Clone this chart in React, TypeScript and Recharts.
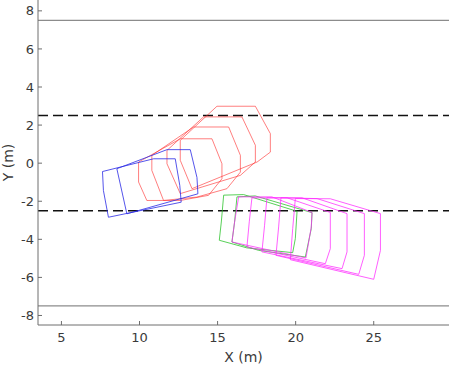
import React from 'react'
import { ComposedChart, Line, XAxis, YAxis, ReferenceLine } from 'recharts'

type Pt = [number, number]

// axis ticks
const xTicks = [5, 10, 15, 20, 25]
const yTicks = [-8, -6, -4, -2, 0, 2, 4, 6, 8]

// lane markings
const laneEdges = [7.5, -7.5]
const laneDividers = [2.5, -2.5]

// footprints (x, y in metres)
const redShapes: Pt[][] = [
  [[9.94, 0.06], [12.61, 1.28], [14.64, 1.28], [15.28, -0.03], [15.28, -0.82], [14.42, -1.69], [12.61, -1.96], [10.47, -1.96], [9.94, -0.99]],
  [[10.79, 0.41], [13.46, 1.9], [15.71, 1.9], [16.46, 0.41], [16.46, -0.47], [15.6, -1.34], [13.68, -1.78], [11.54, -1.96], [10.79, -0.38]],
  [[11.76, 0.67], [14.1, 2.43], [16.56, 2.43], [17.42, 0.94], [17.42, 0.06], [16.46, -0.64], [12.61, -1.6], [11.76, -0.03]],
  [[12.61, 1.2], [14.96, 2.99], [17.42, 2.99], [18.38, 1.55], [18.38, 0.58], [17.53, 0.06], [13.36, -1.34], [12.61, 0.15]],
]

const blueShapes: Pt[][] = [
  [[7.63, -0.44], [10.9, 0.23], [12.29, 0.23], [12.58, -1.17], [12.67, -2.05], [8.01, -2.84], [7.69, -1.44]],
  [[8.55, -0.29], [11.76, 0.71], [13.25, 0.71], [13.68, -0.75], [13.74, -1.61], [9.19, -2.66]],
]

const greenShapes: Pt[][] = [
  [[15.39, -1.68], [16.67, -1.65], [20.09, -2.53], [19.98, -3.96], [19.81, -4.7], [16.88, -4.45], [15.11, -4.05], [15.24, -3.09]],
  [[16.24, -1.77], [17.41, -1.72], [21.05, -2.6], [21.0, -3.44], [20.62, -4.93], [17.63, -4.58], [15.92, -4.14], [16.09, -3.09]],
]

const magentaShapes: Pt[][] = [
  [[16.35, -1.77], [18.48, -1.77], [21.05, -2.59], [21.0, -3.35], [20.66, -4.98], [15.92, -4.14], [16.09, -3.08]],
  [[17.2, -1.82], [19.45, -1.82], [22.22, -2.59], [22.22, -4.49], [21.9, -5.28], [16.88, -4.4], [17.03, -3.08]],
  [[18.16, -1.82], [20.41, -1.82], [23.29, -2.65], [23.29, -4.66], [22.97, -5.54], [17.84, -4.66], [18.01, -3.26]],
  [[19.06, -1.82], [21.37, -1.86], [24.4, -2.65], [24.4, -4.84], [24.04, -5.84], [18.74, -4.84], [18.91, -3.35]],
  [[19.98, -1.86], [22.22, -1.87], [25.43, -2.65], [25.43, -4.58], [25.0, -6.1], [19.66, -5.07], [19.81, -3.44]],
]

const groups = [
  { shapes: redShapes, color: '#ff2a2a', opacity: 0.6 },
  { shapes: blueShapes, color: '#2a2ae6', opacity: 0.8 },
  { shapes: greenShapes, color: '#22c022', opacity: 0.75 },
  { shapes: magentaShapes, color: '#ff2aff', opacity: 0.75 },
]

// close each outline by repeating its first vertex
const toLine = (pts: Pt[]) => [...pts, pts[0]].map(([x, y]) => ({ x, y }))

const textColor = '#3a3a3a'
const axisColor = '#6e6e6e'

export default function App() {
  return (
    <div style={{ position: 'absolute', left: 0, top: 0, width: 449, height: 366, background: '#fff' }}>
      <ComposedChart
        width={449}
        height={366}
        margin={{ top: 0, right: 0, bottom: 0, left: 0 }}
        style={{ fontFamily: '"DejaVu Sans", sans-serif' }}
      >
        <XAxis
          type="number"
          dataKey="x"
          domain={[3.5, 29.82]}
          allowDataOverflow
          ticks={xTicks}
          height={41}
          tickSize={-4}
          tickMargin={12}
          stroke={axisColor}
          tick={{ fill: textColor, fontSize: 13 }}
          label={{ value: 'X (m)', position: 'insideBottom', offset: 4, fill: textColor, fontSize: 14 }}
        />
        <YAxis
          type="number"
          dataKey="y"
          domain={[-8.5, 8.57]}
          allowDataOverflow
          ticks={yTicks}
          width={38}
          tickSize={-4}
          tickMargin={8}
          stroke={axisColor}
          tick={{ fill: textColor, fontSize: 13 }}
          label={{
            content: (props: any) => {
              const vb = props.viewBox || { x: 0, y: 0, width: 38, height: 325 }
              const cx = vb.x + 8
              const cy = vb.y + vb.height / 2
              return (
                <text
                  x={cx}
                  y={cy}
                  transform={`rotate(-90 ${cx} ${cy})`}
                  textAnchor="middle"
                  dominantBaseline="central"
                  fill={textColor}
                  fontSize={14}
                >
                  Y (m)
                </text>
              )
            },
          }}
        />
        {laneEdges.map((v) => (
          <ReferenceLine key={`edge-${v}`} y={v} stroke="#8c8c8c" strokeWidth={1.2} />
        ))}
        {laneDividers.map((v) => (
          <ReferenceLine key={`div-${v}`} y={v} stroke="#111" strokeWidth={1.6} strokeDasharray="10 5" />
        ))}
        {groups.map((g, gi) =>
          g.shapes.map((s, si) => (
            <Line
              key={`poly-${gi}-${si}`}
              data={toLine(s)}
              dataKey="y"
              type="linear"
              stroke={g.color}
              strokeOpacity={g.opacity}
              strokeWidth={1}
              dot={false}
              activeDot={false}
              isAnimationActive={false}
            />
          ))
        )}
      </ComposedChart>
    </div>
  )
}
